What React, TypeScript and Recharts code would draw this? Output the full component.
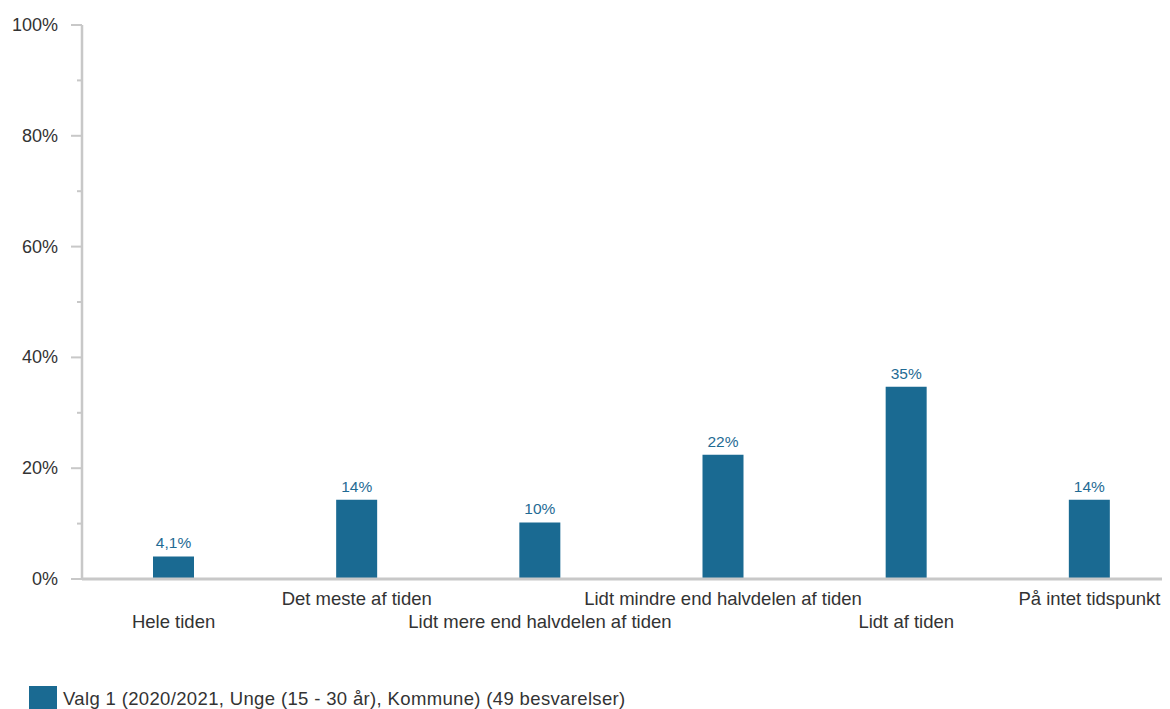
import React from "react";
import { BarChart, Bar, XAxis, YAxis, LabelList, Legend } from "recharts";

const categories = [
  "Hele tiden",
  "Det meste af tiden",
  "Lidt mere end halvdelen af tiden",
  "Lidt mindre end halvdelen af tiden",
  "Lidt af tiden",
  "På intet tidspunkt",
];
const values = [4.08, 14.29, 10.2, 22.45, 34.69, 14.29];
const valueLabels = ["4,1%", "14%", "10%", "22%", "35%", "14%"];
const yTicks = [0, 10, 20, 30, 40, 50, 60, 70, 80, 90, 100];
const seriesName = "Valg 1 (2020/2021, Unge (15 - 30 år), Kommune) (49 besvarelser)";

const data = categories.map((c, i) => ({ name: c, value: values[i], label: valueLabels[i] }));

const FONT = "Arial, 'Liberation Sans', sans-serif";
const BAR = "#1a6a92";
const AXIS = "#c8c8c8";
const TEXT = "#333333";

const YTick = (props: any) => {
  const { x, y, payload } = props;
  const v = payload.value;
  const major = v % 20 === 0;
  return (
    <g>
      <line x1={major ? x - 11 : x - 5} x2={x} y1={y} y2={y} stroke={AXIS} strokeWidth={2} />
      {major && (
        <text x={x - 24} y={y} textAnchor="end" dominantBaseline="central" fill={TEXT} fontSize={18} fontFamily={FONT}>
          {v}%
        </text>
      )}
    </g>
  );
};

const XTick = (props: any) => {
  const { x, y, payload, index } = props;
  const lower = index % 2 === 0;
  return (
    <text x={x} y={y + (lower ? 42 : 19)} textAnchor="middle" dominantBaseline="central" fill={TEXT} fontSize={18.5} fontFamily={FONT}>
      {payload.value}
    </text>
  );
};

const LegendContent = () => (
  <div style={{ display: "flex", alignItems: "flex-start", fontFamily: FONT, fontSize: 18.5, letterSpacing: 0.35, color: TEXT, whiteSpace: "nowrap" }}>
    <div style={{ width: 28, height: 28, background: BAR, marginRight: 6 }} />
    <span style={{ lineHeight: "24px", marginTop: 1 }}>{seriesName}</span>
  </div>
);

export default function App() {
  return (
    <div style={{ width: 1162, height: 701, overflow: "hidden", position: "relative" }}>
      <BarChart
        width={1200}
        height={701}
        data={data}
        margin={{ top: 17, right: 27, left: 0, bottom: 40 }}
        barSize={41}
      >
        <YAxis
          type="number"
          domain={[0, 100]}
          ticks={yTicks}
          interval={0}
          width={74}
          tickSize={0}
          tickMargin={0}
          tickLine={false}
          axisLine={{ stroke: AXIS, strokeWidth: 2.5 }}
          tick={<YTick />}
        />
        <XAxis
          dataKey="name"
          interval={0}
          height={90}
          tickSize={0}
          tickMargin={0}
          tickLine={false}
          axisLine={{ stroke: AXIS, strokeWidth: 3 }}
          tick={<XTick />}
        />
        <Legend
          layout="vertical"
          verticalAlign="middle"
          align="center"
          wrapperStyle={{ top: 678, left: 21, width: 800 }}
          content={<LegendContent />}
        />
        <Bar dataKey="value" name={seriesName} fill={BAR} isAnimationActive={false}>
          <LabelList dataKey="label" position="top" offset={8} fill="#1f6b94" fontSize={15.5} fontFamily={FONT} />
        </Bar>
      </BarChart>
    </div>
  );
}
